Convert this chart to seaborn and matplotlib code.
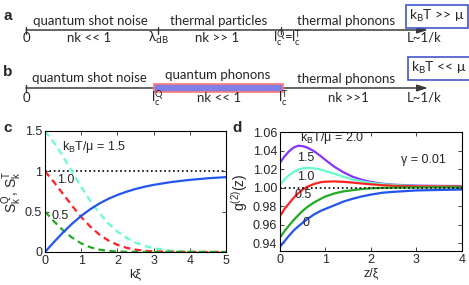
import numpy as np
import pandas as pd
import matplotlib
matplotlib.use("Agg")
import matplotlib.pyplot as plt
import seaborn as sns
from matplotlib.patches import Rectangle

# panel c: structure factors vs k*xi
k_xi = [0, 0.25, 0.5, 0.75, 1, 1.25, 1.5, 1.75, 2, 2.25, 2.5, 2.75, 3, 3.5, 4, 4.5, 5]
s_quantum = [0, 0.124, 0.243, 0.351, 0.447, 0.530, 0.600, 0.659, 0.707, 0.747,
             0.781, 0.809, 0.832, 0.868, 0.894, 0.914, 0.928]
s_thermal_15 = [1.5, 1.356, 1.183, 0.995, 0.808, 0.634, 0.482, 0.355, 0.253, 0.175,
                0.117, 0.075, 0.047, 0.016, 0.005, 0.001, 0.0]
s_thermal_10 = [1.0, 0.865, 0.719, 0.572, 0.434, 0.315, 0.217, 0.143, 0.089, 0.052,
                0.029, 0.015, 0.008, 0.002, 0.0, 0.0, 0.0]
s_thermal_05 = [0.5, 0.378, 0.269, 0.177, 0.107, 0.059, 0.029, 0.013, 0.005, 0.002,
                0.001, 0, 0, 0, 0, 0, 0]

# panel d: g2(z) for several k_B T / mu
z_xi = [0, 0.1, 0.2, 0.3, 0.4, 0.5, 0.6, 0.75, 0.9, 1.0, 1.2, 1.4, 1.6, 1.8, 2.0,
        2.25, 2.5, 3.0, 3.5, 4.0]
g2_T0 = [0.936, 0.942, 0.948, 0.9535, 0.958, 0.962, 0.966, 0.971, 0.975, 0.977, 0.981,
         0.985, 0.988, 0.9905, 0.9925, 0.9945, 0.9955, 0.997, 0.9975, 0.998]
g2_T05 = [0.946, 0.953, 0.959, 0.965, 0.970, 0.975, 0.979, 0.984, 0.988, 0.9905, 0.9938,
          0.996, 0.9973, 0.9985, 0.9993, 0.9998, 1.0, 1.0003, 1.0003, 1.0003]
g2_T10 = [0.969, 0.977, 0.983, 0.989, 0.994, 0.998, 1.001, 1.004, 1.006, 1.0065, 1.0068,
          1.0063, 1.0055, 1.0045, 1.0036, 1.0027, 1.002, 1.0015, 1.0013, 1.0012]
g2_T15 = [1.003, 1.009, 1.0135, 1.017, 1.0195, 1.021, 1.0215, 1.021, 1.0195, 1.018, 1.015,
          1.0118, 1.009, 1.0068, 1.0052, 1.0038, 1.0028, 1.0018, 1.0014, 1.0012]
g2_T20 = [1.027, 1.034, 1.0395, 1.0435, 1.0455, 1.045, 1.0435, 1.0395, 1.034, 1.030,
          1.0225, 1.0165, 1.0118, 1.0085, 1.0062, 1.0043, 1.0032, 1.0022, 1.0019, 1.0018]

blue = "#2255ee"
green = "#22aa22"
red = "#ff2222"
cyan = "#66ffcc"
purple = "#8833ff"

sns.set_style("ticks")
plt.rcParams["font.family"] = ["Liberation Sans", "DejaVu Sans"]
plt.rcParams["mathtext.default"] = "regular"
plt.rcParams["font.size"] = 9

fig = plt.figure(figsize=(4.69, 2.85), dpi=100)

# schematic panels a and b, drawn in pixel coordinates
ax0 = fig.add_axes([0, 0, 1, 1])
ax0.set_xlim(0, 469)
ax0.set_ylim(285, 0)
ax0.axis("off")
line_col = "#3a3a3a"
top_font = dict(family=["Lato", "DejaVu Sans"], fontsize=9.5)
box_col = "#4455cc"

for y in [30, 88]:
    ax0.annotate("", xy=(428, y), xytext=(26, y),
                 arrowprops=dict(arrowstyle="-|>,head_length=0.7,head_width=0.22",
                                 color=line_col, lw=1.1, shrinkA=0, shrinkB=0))
    ax0.plot([26, 26], [y - 3.5, y + 3.5], color=line_col, lw=1.0)

# a
ax0.plot([157.5, 157.5], [26.5, 33.5], color=line_col, lw=1.0)
ax0.plot([281, 281], [26.5, 33.5], color=line_col, lw=1.0)
ax0.text(90, 25, "quantum shot noise", ha="center", va="baseline", **top_font)
ax0.text(219, 25, "thermal particles", ha="center", va="baseline", **top_font)
ax0.text(346, 25, "thermal phonons", ha="center", va="baseline", **top_font)
ax0.text(26, 42, "0", ha="center", va="baseline", **top_font)
ax0.text(89, 42, "nk << 1", ha="center", va="baseline", **top_font)
ax0.text(158, 42, r"λ$_{\mathsf{dB}}$", ha="center", va="baseline", **top_font)
ax0.text(217, 42, "nk >> 1", ha="center", va="baseline", **top_font)
ax0.text(288, 42, r"l$_c^Q$=l$_c^T$", ha="center", va="baseline", **top_font)
ax0.text(424, 42, "L~1/k", ha="center", va="baseline", **top_font)
ax0.text(437, 20, r"k$_B$T >> μ", ha="center", va="baseline", fontsize=10,
         family=["Lato", "DejaVu Sans"],
         bbox=dict(boxstyle="square,pad=0.25", fc="white", ec=box_col, lw=1.2))

# b
ax0.add_patch(Rectangle((154, 83.8), 129, 8.6, fc="#7f7fe6", ec="#ff7a7a", lw=1.2, zorder=3))
ax0.text(89, 82, "quantum shot noise", ha="center", va="baseline", **top_font)
ax0.text(218, 79, "quantum phonons", ha="center", va="baseline", **top_font)
ax0.text(346, 83, "thermal phonons", ha="center", va="baseline", **top_font)
ax0.text(26, 102, "0", ha="center", va="baseline", **top_font)
ax0.text(157, 102, r"l$_c^Q$", ha="center", va="baseline", **top_font)
ax0.text(219, 102, "nk << 1", ha="center", va="baseline", **top_font)
ax0.text(283, 102, r"l$_c^T$", ha="center", va="baseline", **top_font)
ax0.text(348, 102, "nk >>1", ha="center", va="baseline", **top_font)
ax0.text(424, 102, "L~1/k", ha="center", va="baseline", **top_font)
ax0.text(439, 72, r"k$_B$T << μ", ha="center", va="baseline", fontsize=10,
         family=["Lato", "DejaVu Sans"],
         bbox=dict(boxstyle="square,pad=0.25", fc="white", ec=box_col, lw=1.2))

for lab, x, y in [("a", 8, 16), ("b", 8, 72), ("c", 8, 128), ("d", 237, 128)]:
    ax0.text(x, y, lab, ha="center", va="center", fontsize=11, fontweight="bold")

# panel c
axc = fig.add_axes([0.0959, 0.1158, 0.386, 0.4246])
dash = (0, (3, 2))
sns.lineplot(x=k_xi, y=s_thermal_15, ax=axc, color=cyan, lw=1.6, linestyle=dash)
sns.lineplot(x=k_xi, y=s_thermal_10, ax=axc, color=red, lw=1.6, linestyle=dash)
sns.lineplot(x=k_xi, y=s_thermal_05, ax=axc, color=green, lw=1.6, linestyle=dash)
sns.lineplot(x=k_xi, y=s_quantum, ax=axc, color=blue, lw=1.6)
axc.axhline(1, color="black", ls=":", lw=1.2, zorder=1)
axc.set_xlim(0, 5)
axc.set_ylim(0, 1.5)
axc.set_xticks([0, 1, 2, 3, 4, 5])
axc.set_yticks([0, 0.5, 1, 1.5])
axc.set_yticklabels(["0", "0.5", "1", "1.5"])
axc.set_xlabel("kξ", labelpad=1)
axc.set_ylabel(r"S$^Q_k$, S$^T_k$", labelpad=1, fontsize=10)
axc.text(0.47, 1.27, r"k$_B$T/μ = 1.5", fontsize=9)
axc.text(0.33, 0.97, "1.0", va="top", fontsize=9)
axc.text(0.19, 0.52, "0.5", va="top", fontsize=9)

# panel d
axd = fig.add_axes([0.597, 0.1182, 0.388, 0.4175])
for g, c in [(g2_T20, purple), (g2_T15, cyan), (g2_T10, red), (g2_T05, green), (g2_T0, blue)]:
    sns.lineplot(x=z_xi, y=g, ax=axd, color=c, lw=1.6)
axd.axhline(1, color="black", ls=":", lw=1.2, zorder=5)
axd.set_xlim(0, 4)
axd.set_ylim(0.931, 1.06)
axd.set_xticks([0, 1, 2, 3, 4])
axd.set_yticks([0.94, 0.96, 0.98, 1.00, 1.02, 1.04, 1.06])
axd.set_yticklabels(["%.2f" % v for v in [0.94, 0.96, 0.98, 1.00, 1.02, 1.04, 1.06]])
axd.set_xlabel("z/ξ", labelpad=1)
axd.set_ylabel(r"g$^{(2)}$(z)", labelpad=2, fontsize=10)
axd.text(0.45, 1.054, r"k$_B$T/μ = 2.0", va="center", fontsize=9)
axd.text(0.37, 1.032, "1.5", va="center", fontsize=9)
axd.text(0.37, 1.0115, "1.0", va="center", fontsize=9)
axd.text(0.31, 0.992, "0.5", va="center", fontsize=9)
axd.text(0.5, 0.962, "0", va="center", fontsize=9)
axd.text(2.65, 1.03, "γ = 0.01", va="center", fontsize=9)

for ax in [axc, axd]:
    ax.tick_params(direction="in", top=True, right=True, length=3, width=0.6, labelsize=9, pad=2)
    for s in ax.spines.values():
        s.set_linewidth(0.8)
        s.set_color("black")

fig.savefig("out.png", dpi=100)
